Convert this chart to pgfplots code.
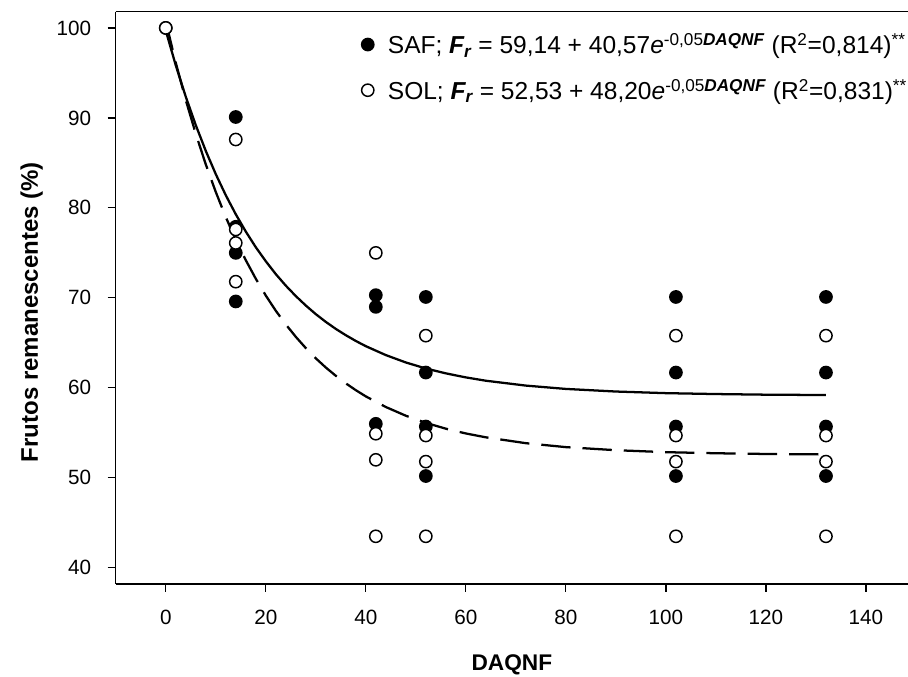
\documentclass[border=0pt]{standalone}
\usepackage{fontspec}
\setmainfont{Liberation Sans}
\usepackage{pgfplots}
\pgfplotsset{compat=1.18}
\begin{document}
\begin{tikzpicture}
\begin{axis}[
  scale only axis, width=594.2pt, height=429.2pt,
  xmin=-10, xmax=148.4, ymin=38.2, ymax=101.8,
  axis x line=box, axis y line=left,
  axis line style={-, line width=0.9pt, black},
  xtick={0,20,...,140}, ytick={40,50,...,100},
  xtick pos=bottom, ytick pos=left,
  tick align=outside, major tick length=6pt,
  tick style={line width=0.9pt, black},
  /pgf/number format/assume math mode=true,
  tick label style={font=\fontsize{15.5}{18}\selectfont},
  xticklabel style={yshift=-10pt},
  yticklabel style={xshift=-9pt},
  xlabel={\textbf{DAQNF}},
  ylabel={\textbf{Frutos remanescentes (\%)}},
  xlabel style={font=\fontsize{17}{20}\selectfont, at={(axis description cs:0.5,-0.1415)}, anchor=center},
  ylabel style={font=\fontsize{18}{21}\selectfont, at={(axis description cs:-0.106,0.475)}, anchor=center},
  legend style={at={(axis description cs:0.305,0.972)}, anchor=north west, draw=none, fill=none,
    font=\fontsize{18.4}{21}\selectfont, row sep=13.5pt,
    /tikz/every odd column/.style={column sep=8.5pt}},
  legend cell align=left,
  clip=false,
]
\coordinate (O) at (axis description cs:0,0);
\draw[line width=0.9pt, black] (axis description cs:0,1) -- (axis description cs:1,1);
% SAF observed
\addplot[only marks, mark=*, mark size=4.6pt, mark options={fill=black, draw=black, line width=1.1pt}]
coordinates {
(0,100)
(14,90.1) (14,77.9) (14,75.0) (14,69.6)
(42,70.3) (42,69.0) (42,56.0)
(52,70.1) (52,61.7) (52,55.7) (52,50.2)
(102,70.1) (102,61.7) (102,55.7) (102,50.2)
(132,70.1) (132,61.7) (132,55.7) (132,50.2)
};
\addlegendentry{SAF; {\bfseries\itshape F\textsubscript{r}} = 59,14 + 40,57\textit{e}\textsuperscript{-0,05{\bfseries\itshape DAQNF}} (R\textsuperscript{2}=0,814)\textsuperscript{**}}
% SOL observed
\addplot[only marks, mark=*, mark size=4.6pt, mark options={fill=white, draw=black, line width=1.1pt}]
coordinates {
(0,100)
(14,87.6) (14,77.6) (14,76.1) (14,71.8)
(42,75.0) (42,54.9) (42,52.0) (42,43.5)
(52,65.8) (52,54.7) (52,51.8) (52,43.5)
(102,65.8) (102,54.7) (102,51.8) (102,43.5)
(132,65.8) (132,54.7) (132,51.8) (132,43.5)
};
\addlegendentry{SOL; {\bfseries\itshape F\textsubscript{r}} = 52,53 + 48,20\textit{e}\textsuperscript{-0,05{\bfseries\itshape DAQNF}} (R\textsuperscript{2}=0,831)\textsuperscript{**}}
% SAF fitted
\addplot[forget plot, black, line width=1.7pt, no marks]
coordinates {
(0,99.71) (2,95.85) (4,92.36) (6,89.20) (8,86.34) (10,83.75) (12,81.41) (14,79.29)
(16,77.37) (18,75.63) (20,74.07) (22,72.64) (24,71.36) (26,70.20) (28,69.15) (30,68.19)
(32,67.33) (34,66.55) (36,65.85) (38,65.21) (40,64.63) (44,63.64) (48,62.82) (52,62.15)
(56,61.61) (60,61.16) (64,60.79) (72,60.25) (80,59.88) (90,59.59) (100,59.41) (110,59.31)
(120,59.24) (132,59.20)
};
% SOL fitted
\addplot[forget plot, black, line width=1.7pt, no marks, dash pattern=on 22pt off 9pt]
coordinates {
(0,100.73) (2,96.14) (4,91.99) (6,88.24) (8,84.84) (10,81.77) (12,78.98) (14,76.47)
(16,74.19) (18,72.13) (20,70.26) (22,68.57) (24,67.05) (26,65.67) (28,64.42) (30,63.28)
(32,62.26) (34,61.34) (36,60.50) (38,59.74) (40,59.05) (44,57.87) (48,56.90) (52,56.11)
(56,55.46) (60,54.93) (64,54.50) (72,53.85) (80,53.41) (90,53.07) (100,52.85) (110,52.73)
(120,52.65) (132,52.60)
};
\end{axis}
\pgfresetboundingbox
\path (O) ++(-86.8pt,-69.75pt) rectangle ++(681pt,507.75pt);
\end{tikzpicture}
\end{document}
